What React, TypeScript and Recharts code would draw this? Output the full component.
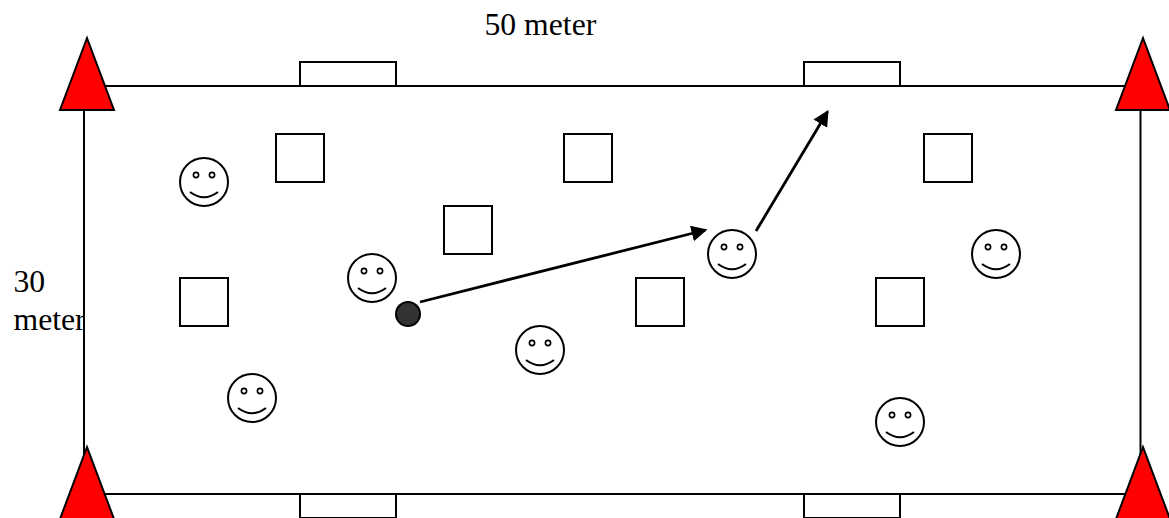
import { ScatterChart, Scatter, XAxis, YAxis } from "recharts";

const field = [{ x: 612.25, y: 290 }];
const goals = [
  { x: 348, y: 74 },
  { x: 852, y: 74 },
  { x: 348, y: 506 },
  { x: 852, y: 506 },
];
const flags = [
  { x: 87, y: 38 },
  { x: 1143, y: 38 },
  { x: 87, y: 447 },
  { x: 1143, y: 447 },
];
const obstacles = [
  { x: 300, y: 158 },
  { x: 588, y: 158 },
  { x: 948, y: 158 },
  { x: 468, y: 230 },
  { x: 204, y: 302 },
  { x: 660, y: 302 },
  { x: 900, y: 302 },
];
const players = [
  { x: 204, y: 182 },
  { x: 372, y: 278 },
  { x: 540, y: 350 },
  { x: 252, y: 398 },
  { x: 732, y: 254 },
  { x: 996, y: 254 },
  { x: 900, y: 422 },
];
const ball = [{ x: 408, y: 314 }];
const passes = [
  [{ x: 420, y: 302 }, { x: 705.5, y: 230 }],
  [{ x: 756, y: 231 }, { x: 827.5, y: 111.7 }],
];
const labels = [
  { x: 484.5, y: 34.5, text: "50 meter" },
  { x: 13.5, y: 292, text: "30" },
  { x: 13.5, y: 330, text: "meter" },
];

const FieldBox = ({ cx, cy }: any) => (
  <rect x={cx - 528.25} y={cy - 204} width={1056.5} height={408} fill="#fff" stroke="#000" strokeWidth={2} />
);

const Goal = ({ cx, cy }: any) => (
  <rect x={cx - 48} y={cy - 12} width={96} height={24} fill="#fff" stroke="#000" strokeWidth={2} />
);

const Flag = ({ cx, cy }: any) => (
  <path d={`M${cx} ${cy}L${cx + 27} ${cy + 72}H${cx - 27}Z`} fill="#ff0000" stroke="#000" strokeWidth={2} />
);

const Obstacle = ({ cx, cy }: any) => (
  <rect x={cx - 24} y={cy - 24} width={48} height={48} fill="#fff" stroke="#000" strokeWidth={2} />
);

const Smiley = ({ cx, cy }: any) => (
  <g fill="none" stroke="#000" strokeWidth={2}>
    <circle cx={cx} cy={cy} r={24} fill="#fff" />
    <circle cx={cx - 8} cy={cy - 7} r={2.6} strokeWidth={1.6} />
    <circle cx={cx + 8} cy={cy - 7} r={2.6} strokeWidth={1.6} />
    <path d={`M${cx - 14} ${cy + 10}Q${cx} ${cy + 20.5} ${cx + 14} ${cy + 10}`} />
  </g>
);

const Ball = ({ cx, cy }: any) => (
  <circle cx={cx} cy={cy} r={12} fill="#333333" stroke="#000" strokeWidth={2} />
);

const Label = ({ cx, cy, payload }: any) => (
  <text x={cx} y={cy} fontFamily="Liberation Serif" fontSize={31.7} fill="#000">
    {payload.text}
  </text>
);

const NoPoint = () => null;

export default function App() {
  return (
    <div style={{ position: "absolute", left: 0, top: 0, background: "#fff" }}>
      <ScatterChart width={1169} height={518} margin={{ top: 0, right: 0, bottom: 0, left: 0 }}>
        <defs>
          <marker id="arrowHead" markerUnits="userSpaceOnUse" markerWidth={17} markerHeight={17} refX={14} refY={8} orient="auto">
            <path d="M0 0L16 8L0 16Z" fill="#000" />
          </marker>
        </defs>
        <XAxis type="number" dataKey="x" domain={[0, 1169]} hide />
        <YAxis type="number" dataKey="y" domain={[0, 518]} reversed hide />
        <Scatter data={labels} shape={Label} isAnimationActive={false} />
        {/* the field box paints over the end of the "meter" label, as in the picture */}
        <Scatter data={field} shape={FieldBox} isAnimationActive={false} />
        <Scatter data={goals} shape={Goal} isAnimationActive={false} />
        <Scatter data={flags} shape={Flag} isAnimationActive={false} />
        <Scatter data={obstacles} shape={Obstacle} isAnimationActive={false} />
        <Scatter data={players} shape={Smiley} isAnimationActive={false} />
        <Scatter data={ball} shape={Ball} isAnimationActive={false} />
        {passes.map((segment, i) => (
          <Scatter
            key={i}
            data={segment}
            line={{ stroke: "#000", strokeWidth: 2.8, markerEnd: "url(#arrowHead)" }}
            shape={NoPoint}
            isAnimationActive={false}
          />
        ))}
      </ScatterChart>
    </div>
  );
}
